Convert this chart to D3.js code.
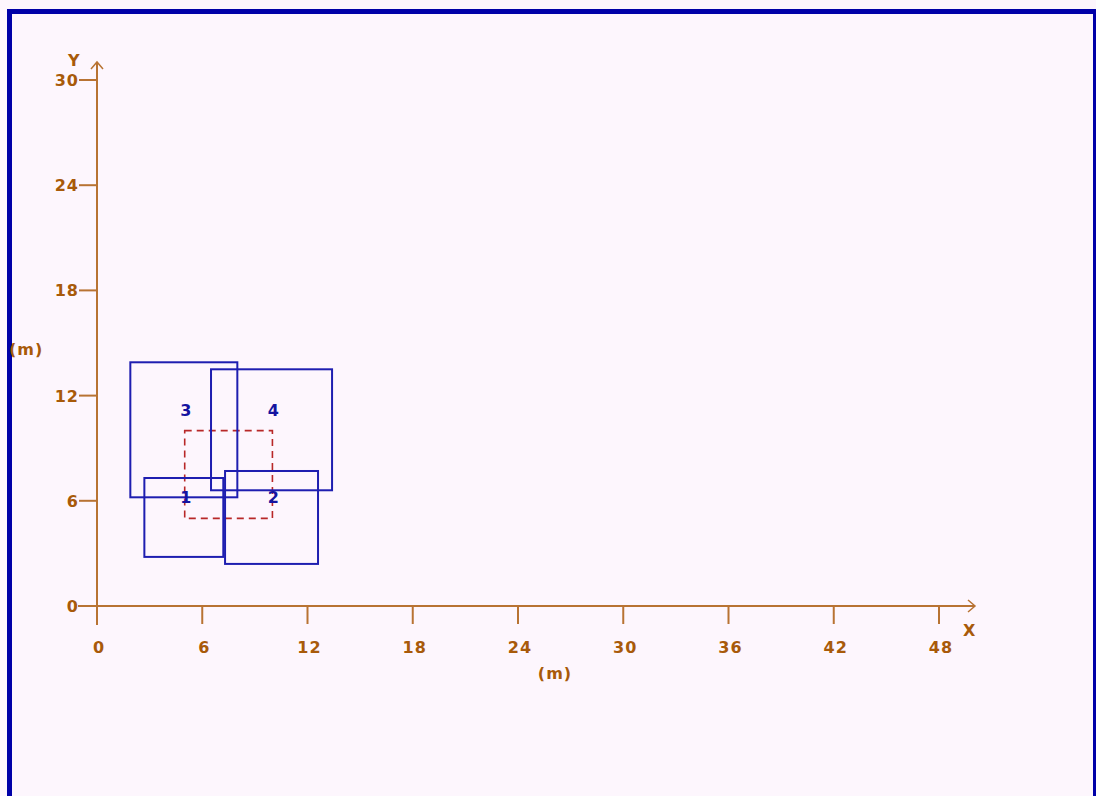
<!DOCTYPE html>
<html>
<head>
<meta charset="utf-8">
<script src="https://cdn.jsdelivr.net/npm/d3@7"></script>
<style>
  html, body { margin:0; padding:0; background:#fdf6fd; }
  svg { display:block; }
  .lbl { font-family:"DejaVu Sans", sans-serif; font-weight:bold; font-size:16px; letter-spacing:1px; fill:#a85a0a; }
  .num { font-family:"DejaVu Sans", sans-serif; font-weight:bold; font-size:16px; fill:#1414a0; }
</style>
</head>
<body>
<svg id="chart" width="1096" height="796"></svg>
<script>
/* ---------- data (metres) ---------------------------------- */
const xTicks = [0, 6, 12, 18, 24, 30, 36, 42, 48];
const yTicks = [0, 6, 12, 18, 24, 30];

// blue squares: id, x-min, x-max, y-min, y-max
const boxIds = ['1', '2', '3', '4'];
const boxX0  = [2.7, 7.3, 1.9, 6.5];
const boxX1  = [7.2, 12.6, 8.0, 13.4];
const boxY0  = [2.8, 2.4, 6.2, 6.6];
const boxY1  = [7.3, 7.7, 13.9, 13.5];
// where each number sits
const idX = [5, 10, 5, 10];
const idY = [6.2, 6.2, 11.2, 11.2];

// red dashed reference square
const refX = [5, 10];
const refY = [5, 10];

/* ---------- svg & scales ----------------------------------- */
const svg = d3.select('#chart');
const axisCol = '#b87333';

svg.append('rect')
  .attr('x', 9.5).attr('y', 11.5)
  .attr('width', 1086).attr('height', 800)
  .attr('fill', '#fdf6fd')
  .attr('stroke', '#0000a8').attr('stroke-width', 5);

const x = d3.scaleLinear().domain([0, 48]).range([97, 939]);
const y = d3.scaleLinear().domain([0, 30]).range([606, 80]);

const g = svg.append('g');

/* axes lines */
g.append('line')
  .attr('x1', x(0) - 19).attr('x2', 975)
  .attr('y1', y(0)).attr('y2', y(0))
  .attr('stroke', axisCol).attr('stroke-width', 2);
g.append('line')
  .attr('x1', x(0)).attr('x2', x(0))
  .attr('y1', y(0) + 19).attr('y2', 62)
  .attr('stroke', axisCol).attr('stroke-width', 2);

/* arrow heads */
g.append('path')
  .attr('d', `M${975-7},${y(0)-6} L975,${y(0)} L${975-7},${y(0)+6}`)
  .attr('fill', 'none').attr('stroke', axisCol).attr('stroke-width', 1.5);
g.append('path')
  .attr('d', `M${x(0)-6},${62+7} L${x(0)},62 L${x(0)+6},${62+7}`)
  .attr('fill', 'none').attr('stroke', axisCol).attr('stroke-width', 1.5);

/* ticks */
g.selectAll('.xt').data(xTicks.filter(d => d > 0)).enter().append('line')
  .attr('x1', d => x(d)).attr('x2', d => x(d))
  .attr('y1', y(0)).attr('y2', y(0) + 18)
  .attr('stroke', axisCol).attr('stroke-width', 2);
g.selectAll('.yt').data(yTicks.filter(d => d > 0)).enter().append('line')
  .attr('x1', x(0) - 18).attr('x2', x(0))
  .attr('y1', d => y(d)).attr('y2', d => y(d))
  .attr('stroke', axisCol).attr('stroke-width', 2);

/* tick labels */
g.selectAll('.xl').data(xTicks).enter().append('text')
  .attr('class', 'lbl')
  .attr('x', d => x(d) + 2).attr('y', y(0) + 47)
  .attr('text-anchor', 'middle')
  .text(d => d);
g.selectAll('.yl').data(yTicks).enter().append('text')
  .attr('class', 'lbl')
  .attr('x', x(0) - 18).attr('y', d => y(d) + 6)
  .attr('text-anchor', 'end')
  .text(d => d);

/* axis titles */
g.append('text').attr('class', 'lbl').attr('x', 68).attr('y', 66).text('Y');
g.append('text').attr('class', 'lbl').attr('x', 963).attr('y', 636).text('X');
g.append('text').attr('class', 'lbl').attr('x', 9).attr('y', 355).text('(m)');
g.append('text').attr('class', 'lbl').attr('x', 555).attr('y', 679)
  .attr('text-anchor', 'middle').text('(m)');

/* red dashed square */
g.append('rect')
  .attr('x', x(refX[0])).attr('y', y(refY[1]))
  .attr('width', x(refX[1]) - x(refX[0]))
  .attr('height', y(refY[0]) - y(refY[1]))
  .attr('fill', 'none')
  .attr('stroke', '#b82828').attr('stroke-width', 1.6)
  .attr('stroke-dasharray', '7,5');

/* blue squares */
const boxes = boxIds.map((id, i) => ({
  id, x0: boxX0[i], x1: boxX1[i], y0: boxY0[i], y1: boxY1[i], lx: idX[i], ly: idY[i]
}));

g.selectAll('.box').data(boxes).enter().append('rect')
  .attr('class', 'box')
  .attr('x', d => x(d.x0)).attr('y', d => y(d.y1))
  .attr('width', d => x(d.x1) - x(d.x0))
  .attr('height', d => y(d.y0) - y(d.y1))
  .attr('fill', 'none')
  .attr('stroke', '#1e1eb0').attr('stroke-width', 2);

g.selectAll('.num').data(boxes).enter().append('text')
  .attr('class', 'num')
  .attr('x', d => x(d.lx) + 1).attr('y', d => y(d.ly) + 6)
  .attr('text-anchor', 'middle')
  .text(d => d.id);
</script>
</body>
</html>
